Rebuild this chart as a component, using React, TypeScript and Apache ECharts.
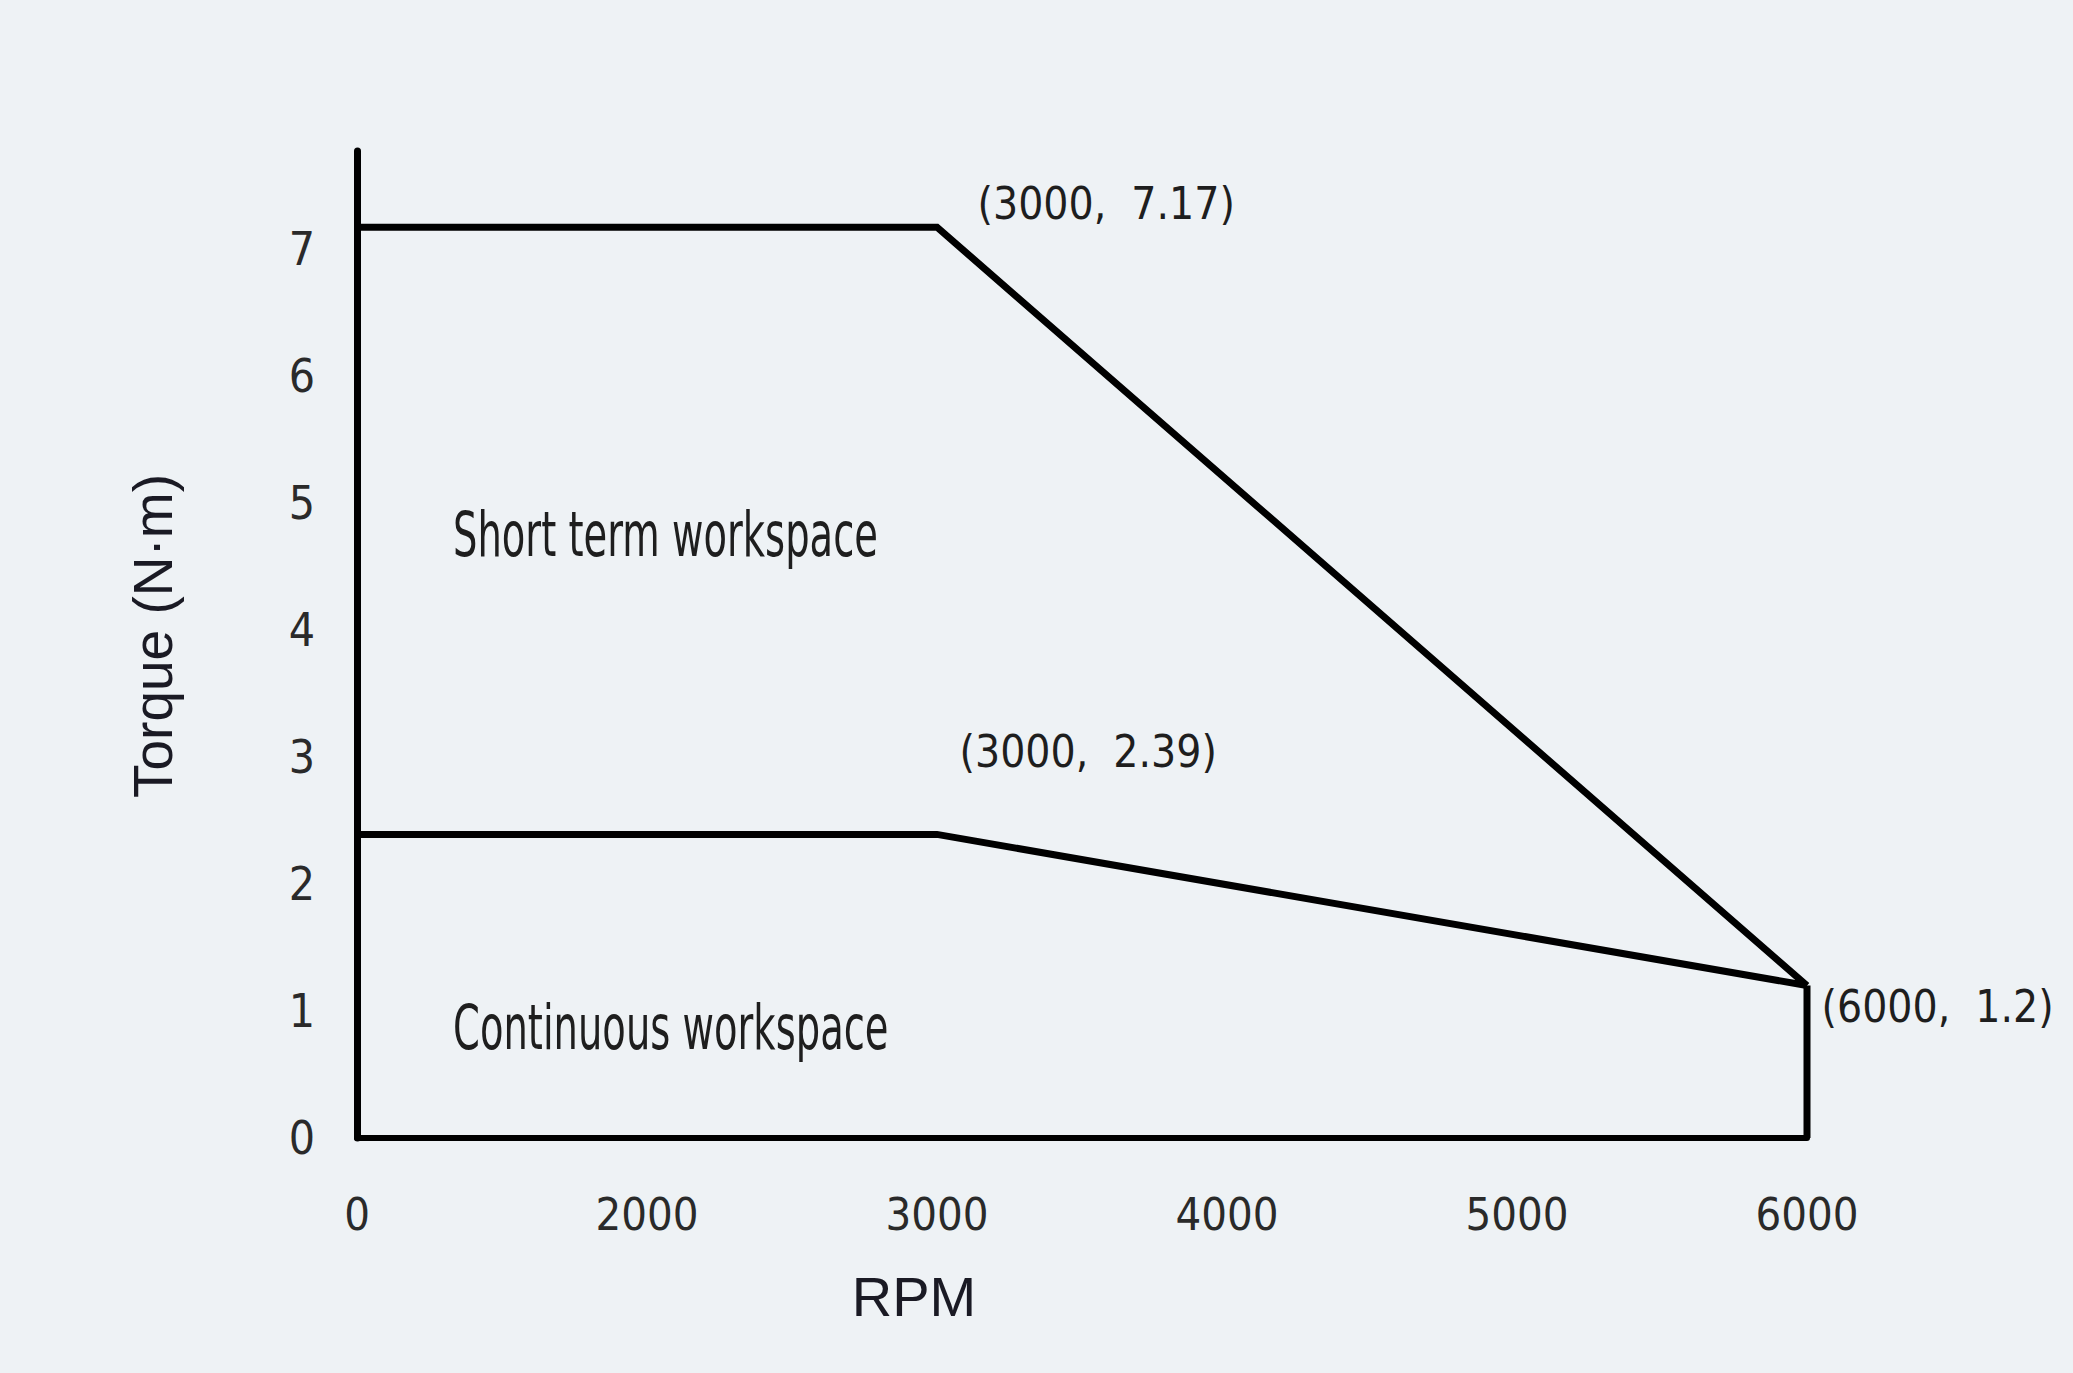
import React, { useEffect, useRef } from "react";
import * as echarts from "echarts";

// Speed axis ticks (evenly spaced on the drawing)
const rpmTicks = ["0", "2000", "3000", "4000", "5000", "6000"];

// Peak (short term) torque envelope: [rpm, N·m]
const shortTermCurve: [string, number][] = [
  ["0", 7.17],
  ["3000", 7.17],
  ["6000", 1.2],
];

// Rated (continuous) torque envelope: [rpm, N·m]
const continuousCurve: [string, number][] = [
  ["0", 2.39],
  ["3000", 2.39],
  ["6000", 1.2],
];

// Closing edge at maximum speed
const maxSpeedEdge: [string, number][] = [
  ["6000", 0],
  ["6000", 1.2],
];

// Corner points that carry a coordinate label, with label offsets
const cornerPoints: [string, number][] = [
  ["3000", 7.17],
  ["3000", 2.39],
  ["6000", 1.2],
];
const cornerOffsets: [number, number][] = [
  [40, -24],
  [22, -83],
  [14, 21],
];

const torqueMax = 7.77;

const NARROW = '"Liberation Sans Narrow", "DejaVu Sans Condensed", "Roboto Condensed", sans-serif';
const SANS = '"Liberation Sans", Arial, Helvetica, sans-serif';

export default function App() {
  const ref = useRef<HTMLDivElement>(null);

  useEffect(() => {
    document.body.style.margin = "0";
    if (!ref.current) return;
    const chart = echarts.init(ref.current, undefined, { renderer: "svg" });

    const lineStyle = { color: "#000", width: 7, join: "miter" as const };

    chart.setOption({
      animation: false,
      backgroundColor: "#eef2f5",
      grid: { left: 357, right: 266, top: 151, bottom: 235, containLabel: false },
      xAxis: {
        type: "category",
        data: rpmTicks,
        boundaryGap: false,
        axisLine: { show: true, lineStyle: { color: "#000", width: 6 } },
        axisTick: { show: false },
        splitLine: { show: false },
        axisLabel: {
          margin: 54,
          fontSize: 45,
          fontFamily: NARROW,
          color: "#2a2a2a",
        },
      },
      yAxis: {
        type: "value",
        min: 0,
        max: torqueMax,
        interval: 1,
        axisLine: { show: true, lineStyle: { color: "#000", width: 7 } },
        axisTick: { show: false },
        splitLine: { show: false },
        axisLabel: {
          margin: 42,
          fontSize: 46,
          fontFamily: NARROW,
          color: "#2a2a2a",
          showMaxLabel: false,
        },
      },
      series: [
        {
          name: "Short term",
          type: "line",
          data: shortTermCurve,
          symbol: "none",
          lineStyle,
        },
        {
          name: "Continuous",
          type: "line",
          data: continuousCurve,
          symbol: "none",
          lineStyle,
        },
        {
          name: "Max speed",
          type: "line",
          data: maxSpeedEdge,
          symbol: "none",
          lineStyle,
        },
        {
          name: "Corners",
          type: "scatter",
          symbolSize: 1,
          itemStyle: { color: "#000", opacity: 0 },
          data: cornerPoints.map((p, i) => ({
            value: p,
            label: { offset: cornerOffsets[i] },
          })),
          label: {
            show: true,
            position: "right",
            distance: 0,
            fontSize: 44,
            fontFamily: NARROW,
            color: "#1e1e1e",
            opacity: 1,
            formatter: (p: any) => `(${p.value[0]},  ${p.value[1]})`,
          },
          z: 5,
        },
      ],
      graphic: [
        {
          type: "text",
          x: 453,
          y: 535,
          scaleX: 0.69,
          style: {
            text: "Short term workspace",
            font: `62px ${NARROW}`,
            fill: "#1e1e1e",
            textAlign: "left",
            textVerticalAlign: "middle",
          },
        },
        {
          type: "text",
          x: 453,
          y: 1028,
          scaleX: 0.69,
          style: {
            text: "Continuous workspace",
            font: `62px ${NARROW}`,
            fill: "#1e1e1e",
            textAlign: "left",
            textVerticalAlign: "middle",
          },
        },
        {
          type: "text",
          x: 153,
          y: 636,
          rotation: Math.PI / 2,
          style: {
            text: "Torque (N·m)",
            font: `55px ${SANS}`,
            fill: "#1a1a24",
            textAlign: "center",
            textVerticalAlign: "middle",
          },
        },
        {
          type: "text",
          x: 914,
          y: 1296,
          style: {
            text: "RPM",
            font: `56px ${SANS}`,
            fill: "#1a1a24",
            textAlign: "center",
            textVerticalAlign: "middle",
          },
        },
      ],
    });

    return () => chart.dispose();
  }, []);

  return (
    <div
      ref={ref}
      style={{ width: 2073, height: 1373, background: "#eef2f5" }}
    />
  );
}
